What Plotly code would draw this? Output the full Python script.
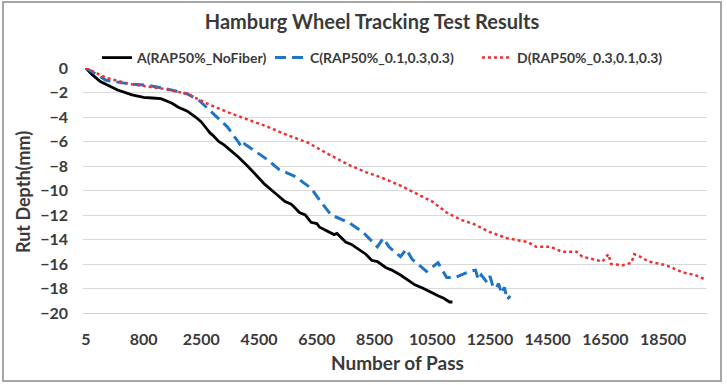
import plotly.graph_objects as go

# Category axis (Excel-style): pass numbers at equally spaced categories
passes = [5] + [40 * k for k in range(1, 21)] + [800 + 85 * k for k in range(1, 21)] + [2500 + 100 * k for k in range(1, 176)]
tick_labels = [5, 800, 2500, 4500, 6500, 8500, 10500, 12500, 14500, 16500, 18500]

a_pass = [5, 80, 200, 440, 640, 800, 1055, 1310, 1480, 1650, 1820, 2075, 2330, 2500, 2700, 2800, 2900, 3100, 3300, 3500,
          3600, 3800, 4100, 4300, 4500, 4700, 5000, 5100, 5200, 5400, 5600, 5700, 5900, 6000, 6100, 6300, 6500, 6600,
          6900, 7100, 7200, 7500, 7700, 8000, 8200, 8400, 8600, 8900, 9100, 9400, 9600, 9900, 10200, 10500, 10700,
          10900, 11100, 11200]
a_depth = [0, -0.5, -1.1, -1.8, -2.2, -2.4, -2.45, -2.5, -2.7, -2.9, -3.2, -3.5, -4.0, -4.4, -5.0, -5.3, -5.5, -6.0,
           -6.3, -6.7, -6.9, -7.3, -8.0, -8.5, -9.0, -9.5, -10.1, -10.3, -10.5, -10.9, -11.1, -11.3, -11.8, -11.9,
           -12.0, -12.6, -12.7, -13.0, -13.4, -13.6, -13.5, -14.2, -14.4, -14.9, -15.2, -15.7, -15.8, -16.3, -16.5,
           -16.9, -17.2, -17.7, -18.0, -18.4, -18.6, -18.8, -19.1, -19.1]

c_pass = [5, 280, 600, 885, 1480, 2075, 2415, 2900, 3400, 3800, 3900, 4000, 4800, 5200, 5800, 6000, 6300, 6600, 7000,
          7600, 8100, 8600, 8800, 9000, 9400, 9600, 9800, 10300, 10700, 11000, 11300, 11700, 11800, 12000, 12100,
          12200, 12400, 12500, 12600, 12700, 12800, 12900, 13000, 13100, 13200]
c_depth = [0, -1.0, -1.3, -1.4, -1.7, -2.1, -2.6, -3.7, -4.8, -6.1, -6.5, -6.2, -7.5, -8.3, -8.9, -9.3, -9.8, -10.8,
           -12.0, -12.6, -13.4, -14.6, -13.9, -14.6, -15.4, -14.8, -15.6, -16.6, -15.9, -17.1, -17.1, -16.7, -16.6,
           -16.5, -17.3, -16.9, -17.5, -17.0, -17.8, -18.0, -17.6, -18.4, -17.9, -18.9, -18.6]

d_pass = [5, 280, 600, 1395, 2075, 2700, 3400, 4100, 4800, 5500, 6200, 6800, 7600, 8200, 8800, 9400, 9900, 10500,
          11000, 11500, 11900, 12500, 13100, 13800, 14100, 14600, 15000, 15500, 15700, 16200, 16400, 16600, 16700,
          17100, 17400, 17500, 17700, 18000, 18600, 19200, 19600, 20000]
d_depth = [0, -0.8, -1.3, -1.7, -2.1, -2.9, -3.6, -4.2, -4.8, -5.5, -6.1, -6.9, -7.9, -8.5, -9.0, -9.6, -10.2, -10.9,
           -11.8, -12.4, -12.7, -13.4, -13.9, -14.2, -14.6, -14.6, -15.0, -15.0, -15.4, -15.7, -15.8, -15.2, -16.0,
           -16.1, -15.9, -15.2, -15.4, -15.8, -16.1, -16.7, -16.9, -17.3]

FONT = "Lato"
TXT = "#3A3A3A"

fig = go.Figure()
fig.add_trace(go.Scatter(x=[str(p) for p in a_pass], y=a_depth, mode="lines", name="A(RAP50%_NoFiber)",
                         line=dict(color="#000000", width=2.8), legend="legend"))
fig.add_trace(go.Scatter(x=[str(p) for p in c_pass], y=c_depth, mode="lines", name="C(RAP50%_0.1,0.3,0.3)",
                         line=dict(color="#1F74C4", width=3, dash="11px,6px"), legend="legend2"))
fig.add_trace(go.Scatter(x=[str(p) for p in d_pass], y=d_depth, mode="lines", name="D(RAP50%_0.3,0.1,0.3)",
                         line=dict(color="#F03030", width=2.5, dash="dot"), legend="legend3"))

W, H = 727, 385
L, R, T, B = 83, 20, 68, 72
pw, ph = W - L - R, H - T - B


def px(x):
    return (x - L) / pw


def py(y):
    return (H - B - y) / ph


def leg(xpix):
    return dict(orientation="h", x=px(xpix), xanchor="left", y=py(58), yanchor="middle",
                font=dict(family=FONT, size=14, weight="bold", color=TXT), bgcolor="rgba(0,0,0,0)",
                itemwidth=30)


fig.update_layout(
    width=W, height=H,
    margin=dict(l=L, r=R, t=T, b=B),
    paper_bgcolor="white", plot_bgcolor="white",
    font=dict(family=FONT, color=TXT),
    title=dict(text="Hamburg Wheel Tracking Test Results", x=px(372), xref="paper", xanchor="center",
               y=1 - 22 / H, yanchor="middle", font=dict(family=FONT, size=20, weight="bold", color=TXT)),
    showlegend=True,
    legend=leg(97),
    legend2=leg(270),
    legend3=leg(477),
    xaxis=dict(type="category", categoryorder="array", categoryarray=[str(p) for p in passes],
               range=[-1, 215.2], tickmode="array", tickvals=[str(t) for t in tick_labels],
               ticktext=[str(t) for t in tick_labels], showgrid=False, showline=True, linecolor="#D0D0D0",
               linewidth=1, ticks="", tickfont=dict(family=FONT, size=16, weight="bold", color=TXT),
               ticklabelstandoff=12, zeroline=False),
    yaxis=dict(range=[-20, 0], tickmode="array", tickvals=list(range(0, -21, -2)), showgrid=True,
               gridcolor="#D9D9D9", gridwidth=1, zeroline=False, showline=False, ticks="",
               tickfont=dict(family=FONT, size=16, weight="bold", color=TXT), ticklabelstandoff=14),
    annotations=[
        dict(text="Rut Depth(mm)", x=px(23), y=py(192), xref="paper", yref="paper", showarrow=False,
             textangle=-90, xanchor="center", yanchor="middle",
             font=dict(family=FONT, size=18, weight="bold", color=TXT)),
        dict(text="Number of Pass", x=px(397), y=py(362), xref="paper", yref="paper", showarrow=False,
             xanchor="center", yanchor="middle", font=dict(family=FONT, size=19, weight="bold", color=TXT)),
    ],
    shapes=[dict(type="rect", xref="paper", yref="paper", x0=px(3), x1=px(721), y0=py(381), y1=py(2),
                 line=dict(color="#A6A6A6", width=2), fillcolor="rgba(0,0,0,0)", layer="below")],
)

fig.write_html("out.html")
